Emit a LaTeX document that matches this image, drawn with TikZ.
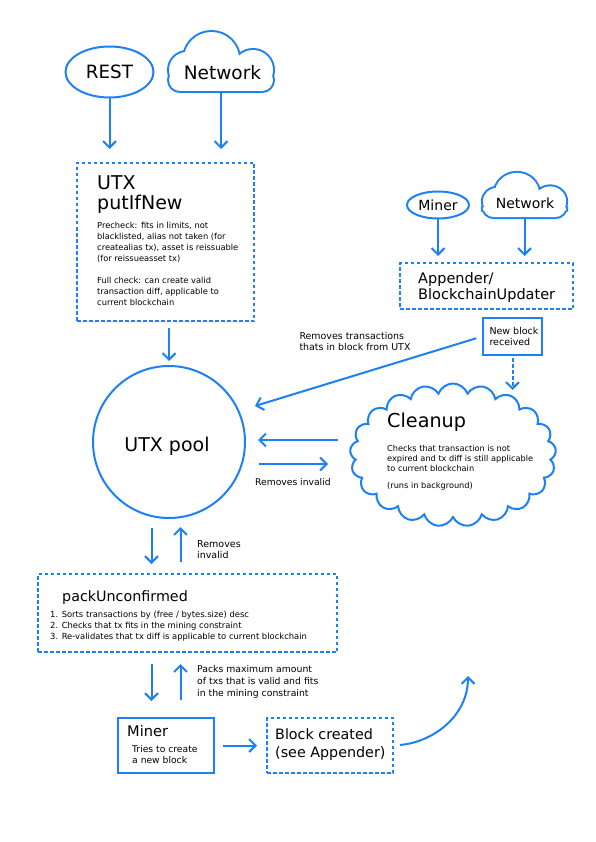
\documentclass[tikz,border=0pt]{standalone}
\usepackage{fontspec}
\setmainfont{DejaVu Sans}
\usetikzlibrary{arrows.meta,shapes.geometric,shapes.symbols}
\definecolor{wblue}{HTML}{1E80F5}
\definecolor{ink}{HTML}{000000}
\newcommand{\fsz}[2]{\fontsize{#1}{#2}\selectfont}
\tikzset{
  line/.style={draw=wblue, line width=2pt},
  arr/.style={line, -{Straight Barb[length=6.5pt,width=13pt]}},
  dashbox/.style={draw=wblue, line width=2pt, dash pattern=on 3.5pt off 2.5pt},
  solidbox/.style={draw=wblue, line width=2pt},
  txt/.style={inner sep=0pt, align=left, text=ink},
  netcloud/.pic={
    \path[draw=wblue,line width=4pt,rounded corners=11pt] (-52,29.5) rectangle (52,7.5);
    \path[draw=wblue,line width=4pt] (-34,8.5) circle[radius=18] (-9.5,-1.8) circle[radius=27.7] (32,8.5) circle[radius=20];
    \path[fill=white,rounded corners=11pt] (-52,29.5) rectangle (52,7.5);
    \path[fill=white] (-34,8.5) circle[radius=18] (-9.5,-1.8) circle[radius=27.7] (32,8.5) circle[radius=20];
  }
}
\begin{document}
\begin{tikzpicture}[x=1pt,y=-1pt]
\fill[white] (0,0) rectangle (595,842);
\useasboundingbox (0,0) rectangle (595,842);

% top sources
\node[ellipse, solidbox, minimum width=88pt, minimum height=51pt, inner sep=0pt, text=ink, font=\fsz{18.3}{20}] (rest) at (109.5,72) {REST};
\pic at (221,61.5) {netcloud};
\node[minimum width=104pt, minimum height=59pt, inner sep=0pt] (net1) at (221,61.5) {};
\node[txt, anchor=base, font=\fsz{18.5}{20}] (net1t) at (222.5,79.3) {Network};

% UTX putIfNew
\node[dashbox, minimum width=177pt, minimum height=158pt] (utxbox) at (165.5,242) {};
\node[txt, anchor=north west, font=\fsz{19}{20}] (utxtitle) at (97,175.2) {UTX\\putIfNew};
\node[txt, anchor=north west, font=\fsz{8.3}{11}] (precheck) at (97,221.7) {Precheck: fits in limits, not\\blacklisted, alias not taken (for\\createalias tx), asset is reissuable\\(for reissueasset tx)};
\node[txt, anchor=north west, font=\fsz{8.3}{11}] (fullcheck) at (97,276.7) {Full check: can create valid\\transaction diff, applicable to\\current blockchain};

% UTX pool
\node[circle, solidbox, minimum size=152pt, inner sep=0pt] (pool) at (169,442) {};
\node[txt, anchor=base, font=\fsz{19}{20}] (poolt) at (167,451) {UTX pool};

% right top sources
\node[ellipse, solidbox, minimum width=62pt, minimum height=27pt, inner sep=0pt, text=ink, font=\fsz{14}{16}] (minerell) at (438,205) {Miner};
\pic[xscale=0.8, yscale=0.75] at (524.5,195) {netcloud};
\node[minimum width=83pt, minimum height=44pt, inner sep=0pt] (net2) at (524.5,195) {};
\node[txt, anchor=base, font=\fsz{14}{16}] (net2t) at (525,209) {Network};

% Appender
\node[dashbox, minimum width=173pt, minimum height=46pt] (appbox) at (486.5,286) {};
\node[txt, anchor=north west, font=\fsz{14.5}{16}] (appt) at (418,272.3) {Appender/\\BlockchainUpdater};

% New block received
\node[solidbox, minimum width=59pt, minimum height=37pt] (newblock) at (512.5,336.5) {};
\node[txt, anchor=north west, font=\fsz{9.5}{11.7}] (newblockt) at (489.3,326.8) {New block\\received};
\node[txt, anchor=north west, font=\fsz{9.45}{11.7}] (remtx) at (299.3,331.8) {Removes transactions\\thats in block from UTX};

% Cleanup cloud
\node[cloud, cloud puffs=21, cloud puff arc=140, aspect=1.5, solidbox, fill=white, minimum width=206pt, minimum height=143pt, inner sep=0pt] (cleanup) at (453,455) {};
\node[txt, anchor=base west, font=\fsz{19.2}{20}] (cleant) at (387,427) {Cleanup};
\node[txt, anchor=north west, font=\fsz{8.2}{10}] (cleanb) at (387,444.8) {Checks that transaction is not\\expired and tx diff is still applicable\\to current blockchain};
\node[txt, anchor=base west, font=\fsz{8.2}{10}] (cleanr) at (387,488) {(runs in background)};
\node[txt, anchor=base west, font=\fsz{9.2}{11}] (reminv1) at (255,485) {Removes invalid};

% packUnconfirmed
\node[dashbox, minimum width=299pt, minimum height=78pt] (packbox) at (187.5,613) {};
\node[txt, anchor=base west, font=\fsz{14.3}{16}] (packt) at (62,601) {packUnconfirmed};
\node[txt, anchor=north west, font=\fsz{8.4}{11}] (packl) at (50,610.6) {1. Sorts transactions by (free / bytes.size) desc\\2. Checks that tx fits in the mining constraint\\3. Re-validates that tx diff is applicable to current blockchain};
\node[txt, anchor=north west, font=\fsz{9.5}{11}] (reminv2) at (197,540.4) {Removes\\invalid};
\node[txt, anchor=north west, font=\fsz{9.3}{12}] (packs) at (197,665.6) {Packs maximum amount\\of txs that is valid and fits\\in the mining constraint};

% Miner box and block created
\node[solidbox, minimum width=96pt, minimum height=55pt] (minerbox) at (166,745.5) {};
\node[txt, anchor=base west, font=\fsz{14.6}{16}] (minert) at (127,736) {Miner};
\node[txt, anchor=north west, font=\fsz{9.2}{11.5}] (minerd) at (132,745) {Tries to create\\a new block};
\node[dashbox, minimum width=126pt, minimum height=55pt] (blockbox) at (330,745.5) {};
\node[txt, anchor=north west, font=\fsz{14.3}{18}] (blockt) at (275,728.1) {Block created\\(see Appender)};

% helper coordinates
\coordinate (tipA) at (255,406);
\coordinate (tipB) at (512.5,390);
\coordinate (tipC) at (468,676);
\coordinate (yA) at (0,440);
\coordinate (yB) at (0,464);
\coordinate (xD) at (151.5,0);
\coordinate (xU) at (180.5,0);

% connectors
\draw[arr, shorten >=13pt] (rest.south) -- (rest.south |- utxbox.north);
\draw[arr, shorten >=13pt] (net1.south) -- (net1.south |- utxbox.north);
\draw[arr, shorten <=6pt, shorten >=4pt] (utxbox.south -| pool.north) -- (pool.north);
\draw[arr, shorten >=6pt] (minerell.south) -- (minerell.south |- appbox.north);
\draw[arr, shorten >=6pt] (net2.south) -- (net2.south |- appbox.north);
\draw[arr, shorten <=6pt] (newblock.west) -- (tipA);
\draw[arr, dash pattern=on 3.5pt off 2.5pt, shorten <=2pt] (newblock.south) -- (tipB);
\draw[arr, shorten >=12pt] (cleanup.west |- yA) ++(-12pt,0) -- (pool.east |- yA);
\draw[arr, shorten <=13pt] (pool.east |- yB) -- ++(82pt,0);
\draw[arr, shorten <=9pt, shorten >=9pt] (pool.south -| xD) -- (packbox.north -| xD);
\draw[arr, shorten <=11pt, shorten >=8pt] (packbox.north -| xU) -- (pool.south -| xU);
\draw[arr, shorten <=11pt, shorten >=16pt] (packbox.south -| xD) -- (minerbox.north -| xD);
\draw[arr, shorten <=17pt, shorten >=11pt] (minerbox.north -| xU) -- (packbox.south -| xU);
\draw[arr, shorten <=8pt, shorten >=9pt] (minerbox.east) -- (blockbox.west);
\draw[arr, shorten <=6pt] (blockbox.east) to[out=5, in=-90] (tipC);
\end{tikzpicture}
\end{document}
